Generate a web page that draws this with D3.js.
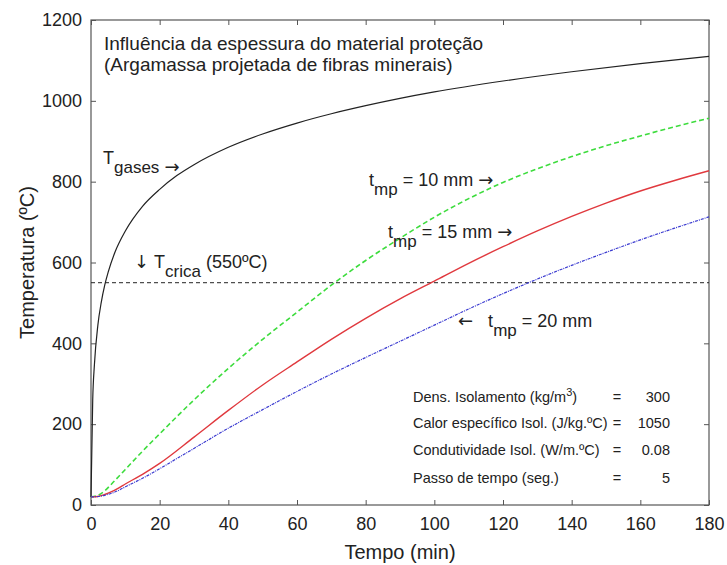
<!DOCTYPE html>
<html>
<head>
<meta charset="utf-8">
<script src="https://cdn.jsdelivr.net/npm/d3@7"></script>
<style>
  body { margin: 0; background: #fff; }
  text { font-family: "Liberation Sans", Arial, sans-serif; fill: #222; }
  .arrow { font-family: "DejaVu Sans", sans-serif; }
</style>
</head>
<body>
<svg id="chart" width="727" height="565"></svg>
<script>
// values (tempo em min, temperatura em ºC)
const tGases = [0, 0.5, 1, 2, 3, 4, 5, 7, 10, 15, 20, 25, 30, 40, 50, 60, 70, 80, 90, 100, 120, 140, 160, 180]
const gases = [20, 260, 348, 445, 502, 544, 576, 626, 678, 739, 781, 815, 842, 885, 918, 945, 968, 988, 1006, 1022, 1049, 1072, 1092, 1110]

const tSteel = [0, 2, 4, 6, 8, 10, 15, 20, 30, 40, 50, 60, 70, 80, 90, 100, 110, 120, 130, 140, 150, 160, 170, 180]
const tmp10 = [20, 24, 35, 52, 70, 88, 133, 176, 260, 338, 410, 477, 544, 605, 660, 712, 758, 798, 832, 862, 889, 913, 936, 957]
const tmp15 = [20, 21, 26, 33, 42, 52, 76, 103, 168, 234, 297, 354, 410, 462, 510, 554, 598, 639, 678, 714, 747, 777, 803, 827]
const tmp20 = [20, 21, 24, 29, 36, 45, 66, 90, 140, 190, 236, 281, 324, 365, 405, 445, 485, 523, 559, 593, 625, 656, 685, 713]

const tCritica = 550
const xTicks = [0, 20, 40, 60, 80, 100, 120, 140, 160, 180]
const yTicks = [0, 200, 400, 600, 800, 1000, 1200]

const infoLabels = ['Dens. Isolamento (kg/m³)', 'Calor específico Isol. (J/kg.ºC)', 'Condutividade Isol. (W/m.ºC)', 'Passo de tempo (seg.)']
const infoValues = ['300', '1050', '0.08', '5']

const margin = { left: 91, right: 18, top: 20, bottom: 60 }
const size = { width: 727, height: 565 }
const w = size.width - margin.left - margin.right
const h = size.height - margin.top - margin.bottom

const svg = d3.select('#chart')
const g = svg.append('g').attr('transform', `translate(${margin.left},${margin.top})`)

const x = d3.scaleLinear().domain([0, 180]).range([0, w])
const y = d3.scaleLinear().domain([0, 1200]).range([h, 0])

// axes with inward ticks on every side
const axisColor = '#555'
function styleAxis(sel) {
    sel.select('.domain').remove()
    sel.selectAll('line').attr('stroke', axisColor)
    sel.selectAll('text').attr('fill', '#333').style('font-size', '18px')
}
g.append('g').attr('transform', `translate(0,${h})`)
    .call(d3.axisBottom(x).tickValues(xTicks).tickSize(-5).tickPadding(12).tickFormat(d3.format('d')))
    .call(styleAxis)
g.append('g')
    .call(d3.axisLeft(y).tickValues(yTicks).tickSize(-5).tickPadding(9).tickFormat(d3.format('d')))
    .call(styleAxis)
g.append('g')
    .call(d3.axisTop(x).tickValues(xTicks).tickSize(-5).tickFormat(''))
    .call(styleAxis)
g.append('g').attr('transform', `translate(${w},0)`)
    .call(d3.axisRight(y).tickValues(yTicks).tickSize(-5).tickFormat(''))
    .call(styleAxis)
g.append('rect').attr('width', w).attr('height', h)
    .attr('fill', 'none').attr('stroke', axisColor).attr('stroke-width', 1.2)

// axis titles
svg.append('text').attr('x', margin.left + w / 2).attr('y', 559)
    .attr('text-anchor', 'middle').style('font-size', '20px').text('Tempo (min)')
svg.append('text').attr('transform', `translate(34,${margin.top + h / 2}) rotate(-90)`)
    .attr('text-anchor', 'middle').style('font-size', '20px').text('Temperatura (ºC)')

// critical temperature line
g.append('line').attr('x1', x(0)).attr('x2', x(180)).attr('y1', y(tCritica)).attr('y2', y(tCritica))
    .attr('stroke', '#222').attr('stroke-width', 1).attr('stroke-dasharray', '4,3')

const line = d3.line().curve(d3.curveMonotoneX)
const series = [
    { t: tGases, v: gases, color: '#222', dash: null, width: 1.2 },
    { t: tSteel, v: tmp10, color: '#3ddc3d', dash: '5,3', width: 1.6 },
    { t: tSteel, v: tmp15, color: '#e0393e', dash: null, width: 1.4 },
    { t: tSteel, v: tmp20, color: '#3b3bd0', dash: '3,1,1,1', width: 1.2 },
]
series.forEach(s => {
    g.append('path')
        .datum(s.t.map((t, i) => [x(t), y(s.v[i])]))
        .attr('fill', 'none')
        .attr('stroke', s.color)
        .attr('stroke-width', s.width)
        .attr('stroke-dasharray', s.dash)
        .attr('d', line)
})

// title inside the plot
const title = svg.append('text').style('font-size', '19px')
title.append('tspan').attr('x', 104).attr('y', 50).text('Influência da espessura do material proteção')
title.append('tspan').attr('x', 104).attr('y', 71).text('(Argamassa projetada de fibras minerais)')

// labels with subscripts, arrows drawn in a font with wider glyphs
function subLabel(px, py, pre, main, sub, post, arrowAfter, gap) {
    const t = svg.append('text').attr('x', px).attr('y', py).style('font-size', '18px')
    if (pre) {
        t.append('tspan').attr('class', 'arrow').text(pre)
        t.append('tspan').text(gap || '\u00a0')
    }
    t.append('tspan').text(main)
    t.append('tspan').attr('dy', 9).style('font-size', '17px').text(sub)
    t.append('tspan').attr('dy', -9).text(post)
    if (arrowAfter) {
        t.append('tspan').text('\u00a0')
        t.append('tspan').attr('class', 'arrow').text(arrowAfter)
    }
}
subLabel(103, 164, null, 'T', 'gases', '', '\u2192')
subLabel(134, 268, '\u2193', 'T', 'crica', ' (550ºC)', null)
subLabel(369, 186, null, 't', 'mp', ' = 10 mm', '\u2192')
subLabel(388, 238, null, 't', 'mp', ' = 15 mm', '\u2192')
subLabel(458, 327, '\u2190', 't', 'mp', ' = 20 mm', null, '\u00a0\u00a0\u00a0')

// info box
const rowY = [402, 428, 455, 483]
infoLabels.forEach((lab, i) => {
    const t = svg.append('text').attr('x', 413).attr('y', rowY[i]).style('font-size', '14.5px')
    if (lab.includes('³')) {
        t.append('tspan').text('Dens. Isolamento (kg/m')
        t.append('tspan').attr('dy', -6).style('font-size', '11px').text('3')
        t.append('tspan').attr('dy', 6).text(')')
    } else {
        t.text(lab)
    }
    svg.append('text').attr('x', 617).attr('y', rowY[i]).attr('text-anchor', 'middle').style('font-size', '14.5px').text('=')
    svg.append('text').attr('x', 670).attr('y', rowY[i]).attr('text-anchor', 'end').style('font-size', '14.5px').text(infoValues[i])
})
</script>
</body>
</html>
